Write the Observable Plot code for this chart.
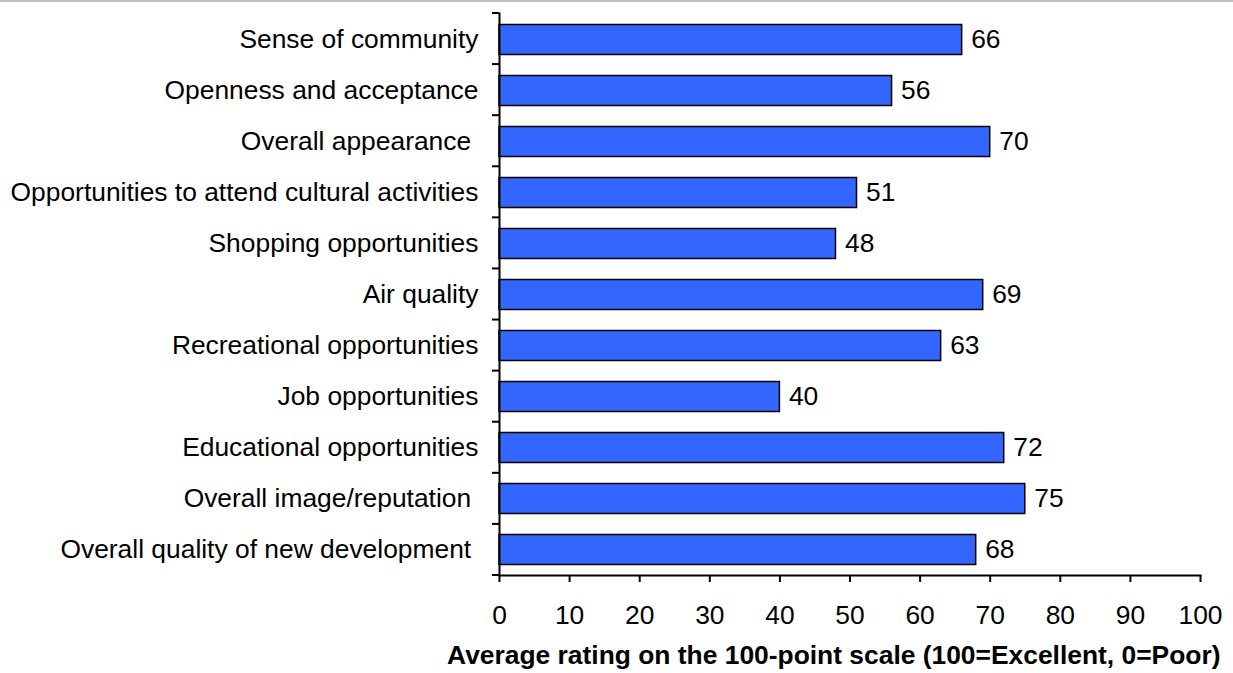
<!DOCTYPE html>
<html>
<head>
<meta charset="utf-8">
<script src="https://cdn.jsdelivr.net/npm/d3@7"></script>
<script src="https://cdn.jsdelivr.net/npm/@observablehq/plot@0.6"></script>
<style>
  html, body { margin: 0; padding: 0; background: #fff; }
  #topline { height: 2px; background: #c0c0c0; width: 1233px; }
  svg text { white-space: pre; }
</style>
</head>
<body>
<div id="topline"></div>
<div id="chart"></div>
<script>
const categories = [
  "Sense of community",
  "Openness and acceptance",
  "Overall appearance ",
  "Opportunities to attend cultural activities",
  "Shopping opportunities",
  "Air quality",
  "Recreational opportunities",
  "Job opportunities",
  "Educational opportunities",
  "Overall image/reputation ",
  "Overall quality of new development "
];
const values = [66, 56, 70, 51, 48, 69, 63, 40, 72, 75, 68];
const xTicks = [0, 10, 20, 30, 40, 50, 60, 70, 80, 90, 100];
const xTitle = "Average rating on the 100-point scale (100=Excellent, 0=Poor)";

const data = categories.map((c, i) => ({category: c, value: values[i]}));
const FS = 26.4;

function bandTicks(index, scales, vals, dims) {
  const {marginTop, marginBottom, marginLeft, height} = dims;
  const n = categories.length;
  const step = (height - marginTop - marginBottom) / n;
  const g = d3.create("svg:g").attr("stroke", "#000").attr("stroke-width", 2);
  for (let k = 0; k <= n; k++) {
    const yy = marginTop + k * step;
    g.append("line").attr("x1", marginLeft - 7).attr("x2", marginLeft).attr("y1", yy).attr("y2", yy);
  }
  return g.node();
}

const chart = Plot.plot({
  width: 1233,
  height: 671,
  marginLeft: 499,
  marginRight: 33,
  marginTop: 11,
  marginBottom: 98,
  style: {fontFamily: "'Liberation Sans', Arial, sans-serif", fontSize: FS + "px", color: "#000", background: "#fff"},
  x: {domain: [0, 100]},
  y: {domain: categories, padding: 0},
  marks: [
    Plot.barX(data, {x: "value", y: "category", fill: "#3366FF", stroke: "#000", strokeWidth: 1.5, insetTop: 10.5, insetBottom: 10.5}),
    Plot.text(data, {x: "value", y: "category", text: d => String(d.value), textAnchor: "start", dx: 9, fontSize: FS, fill: "#000"}),
    Plot.axisY({tickSize: 0, tickPadding: 21, label: null, fontSize: FS}),
    Plot.axisX({ticks: xTicks, tickSize: 7, tickPadding: 23, strokeWidth: 2, label: null, fontSize: FS}),
    Plot.frame({anchor: "left", strokeWidth: 2}),
    Plot.frame({anchor: "bottom", strokeWidth: 2}),
    bandTicks,
    Plot.text([xTitle], {frameAnchor: "bottom-right", text: d => d, textAnchor: "end", lineAnchor: "bottom", dx: 20, dy: 88, fontWeight: "bold", fontSize: FS, fill: "#000"})
  ]
});
document.getElementById("chart").appendChild(chart);
</script>
</body>
</html>
